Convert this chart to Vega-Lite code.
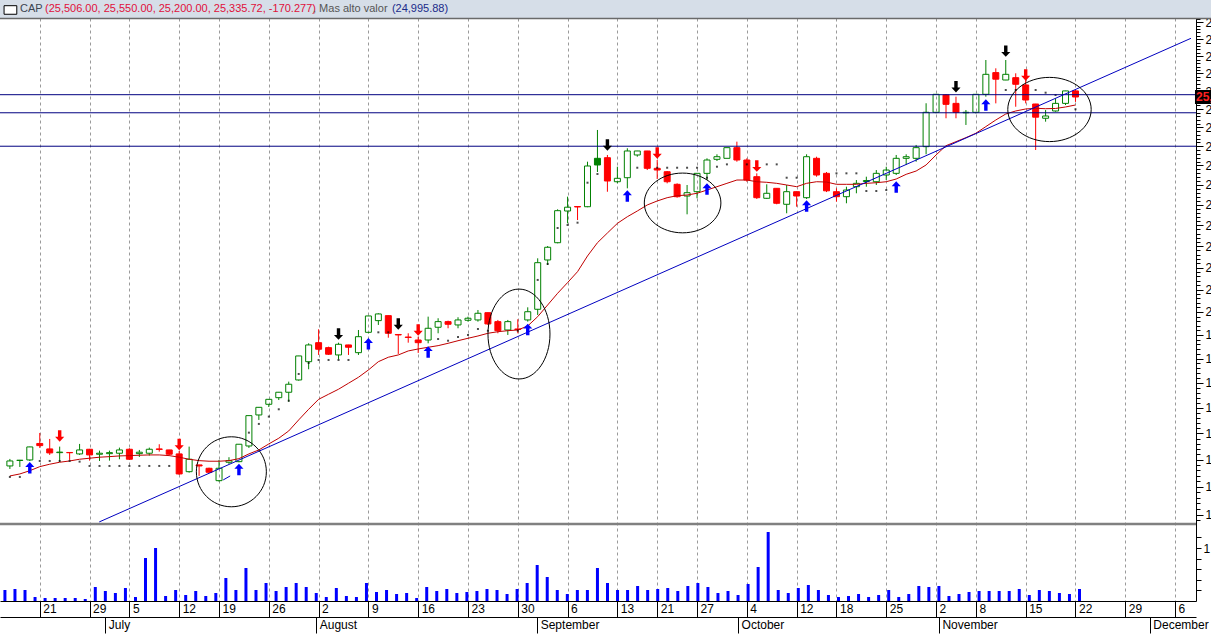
{
  "$schema": "https://vega.github.io/schema/vega-lite/v6.json",
  "width": 1196,
  "height": 601,
  "autosize": {"type": "none"},
  "padding": {"left": 0, "top": 0, "right": 15, "bottom": 35},
  "background": "#ffffff",
  "config": {
    "view": {"stroke": null},
    "font": "Liberation Sans",
    "axis": {"labelFont": "Liberation Sans"}
  },
  "datasets": {
    "candles": [
      {"k":-3,"o":16883,"h":17014,"l":16827,"c":16976,"clr":"g","ma":16698,"s":16680,"v":0.208},
      {"k":-2,"o":16985,"h":16995,"l":16864,"c":16990,"clr":"g","ma":16735,"s":16680,"v":0.226},
      {"k":-1,"o":16995,"h":17245,"l":16976,"c":17240,"clr":"g","ma":16795,"v":0.208},
      {"k":0,"o":17306,"h":17507,"l":17221,"c":17265,"clr":"r","ma":16870,"s":16976,"v":0.075},
      {"k":1,"o":17202,"h":17392,"l":17089,"c":17127,"clr":"r","ma":16915,"s":16976,"v":0.057},
      {"k":2,"o":17132,"h":17246,"l":16958,"c":17142,"clr":"g","ma":16952,"s":16976,"v":0.057},
      {"k":3,"o":17135,"h":17138,"l":16995,"c":17130,"clr":"r","ma":16976,"s":16976,"v":0.057},
      {"k":4,"o":17108,"h":17297,"l":17089,"c":17183,"clr":"g","ma":17008,"s":16963,"v":0.057},
      {"k":5,"o":17196,"h":17202,"l":16982,"c":17089,"clr":"r","ma":17027,"s":16883,"v":0.038},
      {"k":6,"o":17102,"h":17170,"l":16976,"c":17121,"clr":"g","ma":17046,"s":16883,"v":0.264},
      {"k":7,"o":17113,"h":17170,"l":16982,"c":17132,"clr":"g","ma":17057,"s":16883,"v":0.189},
      {"k":8,"o":17121,"h":17227,"l":17008,"c":17183,"clr":"g","ma":17070,"s":16883,"v":0.151},
      {"k":9,"o":17196,"h":17215,"l":16995,"c":17008,"clr":"r","ma":17076,"s":16883,"v":0.245},
      {"k":10,"o":17113,"h":17183,"l":17051,"c":17140,"clr":"g","ma":17083,"s":16883,"v":0.075},
      {"k":11,"o":17121,"h":17227,"l":17076,"c":17196,"clr":"g","ma":17089,"s":16883,"v":0.811},
      {"k":12,"o":17202,"h":17291,"l":17151,"c":17193,"clr":"r","ma":17089,"s":16883,"v":1.0},
      {"k":13,"o":17183,"h":17185,"l":17076,"c":17102,"clr":"r","ma":17076,"s":16883,"v":0.094},
      {"k":14,"o":17108,"h":17164,"l":16717,"c":16735,"clr":"r","ma":17046,"v":0.208},
      {"k":15,"o":16777,"h":17246,"l":16759,"c":17008,"clr":"g","ma":17008,"v":0.113},
      {"k":16,"o":16902,"h":16905,"l":16698,"c":16883,"clr":"r","ma":16982,"v":0.189},
      {"k":17,"o":16840,"h":16851,"l":16759,"c":16766,"clr":"r","ma":16971,"v":0.094},
      {"k":18,"o":16612,"h":16995,"l":16594,"c":16840,"clr":"g","ma":16971,"v":0.151},
      {"k":19,"o":16952,"h":17046,"l":16920,"c":16982,"clr":"g","ma":16982,"v":0.434},
      {"k":20,"o":16963,"h":17295,"l":16952,"c":17291,"clr":"g","ma":17019,"v":0.208},
      {"k":21,"o":17258,"h":17848,"l":17221,"c":17844,"clr":"g","ma":17108,"s":17513,"v":0.623},
      {"k":22,"o":17857,"h":18014,"l":17760,"c":18008,"clr":"g","ma":17183,"s":17682,"v":0.208},
      {"k":23,"o":18068,"h":18173,"l":18014,"c":18167,"clr":"g","ma":17297,"s":17825,"v":0.34},
      {"k":24,"o":18200,"h":18315,"l":18153,"c":18309,"clr":"g","ma":17406,"s":17969,"v":0.189},
      {"k":25,"o":18309,"h":18524,"l":18119,"c":18471,"clr":"g","ma":17546,"s":18139,"v":0.264},
      {"k":26,"o":18558,"h":19058,"l":18544,"c":19055,"clr":"g","ma":17760,"s":18681,"v":0.34},
      {"k":27,"o":18935,"h":19322,"l":18778,"c":19287,"clr":"g","ma":17969,"s":18908,"v":0.264},
      {"k":28,"o":19335,"h":19622,"l":19076,"c":19196,"clr":"r","ma":18167,"s":18971,"v":0.151},
      {"k":29,"o":19230,"h":19251,"l":19076,"c":19091,"clr":"r","ma":18269,"s":18971,"v":0.075},
      {"k":30,"o":19076,"h":19335,"l":18986,"c":19301,"clr":"g","ma":18370,"s":18971,"v":0.245},
      {"k":31,"o":19287,"h":19290,"l":19076,"c":19238,"clr":"r","ma":18491,"s":18971,"v":0.094},
      {"k":32,"o":19124,"h":19607,"l":19076,"c":19463,"clr":"g","ma":18613,"v":0.075},
      {"k":33,"o":19557,"h":19915,"l":19536,"c":19912,"clr":"g","ma":18763,"v":0.34},
      {"k":34,"o":19810,"h":19971,"l":19716,"c":19956,"clr":"g","ma":18935,"s":19557,"v":0.17},
      {"k":35,"o":19919,"h":19922,"l":19441,"c":19536,"clr":"r","ma":19028,"s":19557,"v":0.208},
      {"k":36,"o":19510,"h":19521,"l":19097,"c":19500,"clr":"r","ma":19076,"v":0.132},
      {"k":37,"o":19456,"h":19536,"l":19335,"c":19446,"clr":"r","ma":19160,"v":0.151},
      {"k":38,"o":19392,"h":19463,"l":19118,"c":19335,"clr":"r","ma":19202,"v":0.057},
      {"k":39,"o":19392,"h":19897,"l":19322,"c":19644,"clr":"g","ma":19238,"v":0.264},
      {"k":40,"o":19666,"h":19862,"l":19536,"c":19788,"clr":"g","ma":19272,"s":19413,"v":0.189},
      {"k":41,"o":19788,"h":19810,"l":19644,"c":19731,"clr":"r","ma":19322,"s":19377,"v":0.226},
      {"k":42,"o":19716,"h":19884,"l":19644,"c":19825,"clr":"g","ma":19377,"s":19456,"v":0.151},
      {"k":43,"o":19818,"h":19897,"l":19788,"c":19862,"clr":"g","ma":19429,"s":19500,"v":0.17},
      {"k":44,"o":19825,"h":20043,"l":19788,"c":19971,"clr":"g","ma":19478,"s":19629,"v":0.189},
      {"k":45,"o":19984,"h":19987,"l":19716,"c":19738,"clr":"r","ma":19536,"s":19592,"v":0.226},
      {"k":46,"o":19788,"h":19825,"l":19536,"c":19592,"clr":"r","ma":19570,"v":0.208},
      {"k":47,"o":19607,"h":19825,"l":19500,"c":19788,"clr":"g","ma":19592,"v":0.132},
      {"k":48,"o":19629,"h":19840,"l":19536,"c":19618,"clr":"r","ma":19607,"s":19592,"v":0.226},
      {"k":49,"o":19825,"h":20102,"l":19788,"c":20005,"clr":"g","ma":19694,"v":0.34},
      {"k":50,"o":20059,"h":21216,"l":19934,"c":21114,"clr":"g","ma":19897,"s":20717,"v":0.679},
      {"k":51,"o":21177,"h":21505,"l":21061,"c":21475,"clr":"g","ma":20154,"s":21084,"v":0.453},
      {"k":52,"o":21583,"h":22391,"l":21569,"c":22357,"clr":"g","ma":20415,"s":21935,"v":0.208},
      {"k":53,"o":22349,"h":22705,"l":22047,"c":22443,"clr":"g","ma":20656,"s":22008,"v":0.132},
      {"k":54,"o":22460,"h":22465,"l":22128,"c":22448,"clr":"r","ma":20906,"s":22064,"v":0.208},
      {"k":55,"o":22455,"h":23595,"l":22443,"c":23484,"clr":"g","ma":21270,"s":23056,"v":0.208},
      {"k":56,"o":23683,"h":24433,"l":23329,"c":23510,"clr":"g","ma":21583,"s":23278,"v":0.623},
      {"k":57,"o":23699,"h":23770,"l":22828,"c":23099,"clr":"r","ma":21815,"v":0.34},
      {"k":58,"o":23081,"h":23465,"l":23040,"c":23168,"clr":"g","ma":22047,"v":0.208},
      {"k":59,"o":23183,"h":23946,"l":22914,"c":23875,"clr":"g","ma":22209,"v":0.208},
      {"k":60,"o":23770,"h":23878,"l":23725,"c":23875,"clr":"g","ma":22349,"s":23439,"v":0.283},
      {"k":61,"o":23875,"h":23878,"l":23380,"c":23424,"clr":"r","ma":22498,"v":0.208},
      {"k":62,"o":23424,"h":23639,"l":23150,"c":23380,"clr":"r","ma":22597,"s":23439,"v":0.226},
      {"k":63,"o":23336,"h":23354,"l":23040,"c":23081,"clr":"r","ma":22679,"s":23439,"v":0.245},
      {"k":64,"o":23015,"h":23040,"l":22679,"c":22704,"clr":"r","ma":22729,"s":23439,"v":0.189},
      {"k":65,"o":22721,"h":22998,"l":22268,"c":22804,"clr":"g","ma":22746,"s":23439,"v":0.283},
      {"k":66,"o":22829,"h":23298,"l":22664,"c":23295,"clr":"g","ma":22789,"s":23439,"v":0.34},
      {"k":67,"o":23295,"h":23683,"l":23124,"c":23639,"clr":"g","ma":22871,"s":23183,"v":0.264},
      {"k":68,"o":23657,"h":23788,"l":23613,"c":23725,"clr":"g","ma":22955,"s":23465,"v":0.151},
      {"k":69,"o":23683,"h":23965,"l":23680,"c":23962,"clr":"g","ma":23040,"s":23526,"v":0.189},
      {"k":70,"o":23962,"h":24121,"l":23595,"c":23639,"clr":"r","ma":23124,"v":0.113},
      {"k":71,"o":23639,"h":23683,"l":23081,"c":23124,"clr":"r","ma":23124,"s":23526,"v":0.321},
      {"k":72,"o":23209,"h":23295,"l":22647,"c":22679,"clr":"r","ma":23081,"s":23526,"v":0.642},
      {"k":73,"o":22664,"h":23015,"l":22647,"c":22789,"clr":"g","ma":23066,"s":23526,"v":1.302},
      {"k":74,"o":22914,"h":22917,"l":22515,"c":22540,"clr":"r","ma":23040,"s":23526,"v":0.208},
      {"k":75,"o":22515,"h":22998,"l":22293,"c":22829,"clr":"g","ma":22998,"s":23183,"v":0.151},
      {"k":76,"o":22829,"h":22832,"l":22455,"c":22721,"clr":"r","ma":22955,"s":23183,"v":0.245},
      {"k":77,"o":22679,"h":23788,"l":22647,"c":23725,"clr":"g","ma":23040,"v":0.302},
      {"k":78,"o":23683,"h":23725,"l":23209,"c":23252,"clr":"r","ma":23081,"v":0.208},
      {"k":79,"o":23295,"h":23329,"l":22820,"c":22851,"clr":"r","ma":23073,"v":0.113},
      {"k":80,"o":22829,"h":22914,"l":22580,"c":22704,"clr":"r","ma":23015,"s":23295,"v":0.075},
      {"k":81,"o":22704,"h":22955,"l":22540,"c":22871,"clr":"g","ma":23015,"s":23295,"v":0.094},
      {"k":82,"o":22955,"h":23124,"l":22789,"c":23040,"clr":"g","ma":23015,"s":23295,"v":0.132},
      {"k":83,"o":23086,"h":23209,"l":22955,"c":23111,"clr":"g","ma":23040,"s":22846,"v":0.075},
      {"k":84,"o":23081,"h":23380,"l":22998,"c":23295,"clr":"g","ma":23056,"s":22846,"v":0.113},
      {"k":85,"o":23252,"h":23465,"l":23124,"c":23380,"clr":"g","ma":23081,"s":22871,"v":0.208},
      {"k":86,"o":23295,"h":23770,"l":23252,"c":23683,"clr":"g","ma":23150,"v":0.075},
      {"k":87,"o":23683,"h":23788,"l":23510,"c":23725,"clr":"g","ma":23270,"v":0.132},
      {"k":88,"o":23683,"h":24034,"l":23595,"c":23962,"clr":"g","ma":23354,"v":0.283},
      {"k":89,"o":23989,"h":25162,"l":23788,"c":24913,"clr":"g","ma":23510,"v":0.264},
      {"k":90,"o":24913,"h":25414,"l":24886,"c":25411,"clr":"g","ma":23770,"v":0.283},
      {"k":91,"o":25392,"h":25411,"l":24750,"c":25132,"clr":"r","ma":24014,"v":0.094},
      {"k":92,"o":25159,"h":25345,"l":24750,"c":24913,"clr":"r","ma":24121,"v":0.132},
      {"k":93,"o":24900,"h":24976,"l":24568,"c":24913,"clr":"g","ma":24228,"v":0.17},
      {"k":94,"o":24913,"h":25414,"l":24881,"c":25411,"clr":"g","ma":24345,"v":0.189},
      {"k":95,"o":25411,"h":26388,"l":25344,"c":25976,"clr":"g","ma":24524,"v":0.189},
      {"k":96,"o":26025,"h":26148,"l":25159,"c":25837,"clr":"r","ma":24703,"v":0.189},
      {"k":97,"o":25814,"h":26388,"l":25810,"c":25976,"clr":"g","ma":24866,"s":25531,"v":0.189},
      {"k":98,"o":25880,"h":26005,"l":25066,"c":25693,"clr":"r","ma":24949,"s":25531,"v":0.226},
      {"k":99,"o":25673,"h":25814,"l":25159,"c":25252,"clr":"r","ma":25004,"v":0.113},
      {"k":100,"o":25141,"h":25145,"l":23901,"c":24779,"clr":"r","ma":25023,"s":25531,"v":0.208},
      {"k":101,"o":24750,"h":24976,"l":24657,"c":24812,"clr":"g","ma":25012,"s":25456,"v":0.189},
      {"k":102,"o":24949,"h":25300,"l":24930,"c":25159,"clr":"g","ma":25018,"s":25392,"v":0.151},
      {"k":103,"o":25159,"h":25512,"l":25113,"c":25506,"clr":"g","ma":25059,"v":0.132},
      {"k":104,"o":25506,"h":25550,"l":25200,"c":25335.72,"clr":"r","ma":25114,"s":24995.88,"v":0.226}
    ],
    "arrows": [
      {"k":-1,"p":16849,"t":"buy"},{"k":20,"p":16817,"t":"buy"},{"k":33,"p":19311,"t":"buy"},
      {"k":39,"p":19139,"t":"buy"},{"k":49,"p":19618,"t":"buy"},{"k":59,"p":22721,"t":"buy"},
      {"k":67,"p":22896,"t":"buy"},{"k":77,"p":22473,"t":"buy"},{"k":86,"p":22946,"t":"buy"},
      {"k":95,"p":25113,"t":"buy"},
      {"k":30,"p":19520,"t":"sell"},{"k":36,"p":19738,"t":"sell"},{"k":57,"p":24034,"t":"sell"},
      {"k":92,"p":25624,"t":"sell"},{"k":97,"p":26646,"t":"sell"},
      {"k":2,"p":17450,"t":"sellr"},{"k":14,"p":17287,"t":"sellr"},{"k":38,"p":19607,"t":"sellr"},
      {"k":62,"p":23822,"t":"sellr"},{"k":72,"p":23483,"t":"sellr"},{"k":99,"p":25956,"t":"sellr"}
    ],
    "ellipses": [
      {"k":19.24,"p":16775,"e":"e1","sz":4900},
      {"k":48.12,"p":19520,"e":"e2","sz":3844},
      {"k":64.55,"p":22548,"e":"e3","sz":5868},
      {"k":101.39,"p":24990,"e":"e4","sz":6956}
    ],
    "trend": [
      {"k1":5.97,"p1":15874,"k2":115.6,"p2":27026},
      {"k1":18.42,"p1":16625,"k2":19.12,"p2":16698}
    ],
    "hlines": [{"p":25400},{"p":24900},{"p":24000}],
    "hdr": [
      {"pos":3.93,"txt":"CAP","col":"#3c4450"},
      {"pos":8.84,"txt":"(25,506.00, 25,550.00, 25,200.00, 25,335.72, -170.277)","col":"#e0103a"},
      {"pos":61.5,"txt":", Mas  alto valor","col":"#555555"},
      {"pos":77,"txt":"(24,995.88)","col":"#1a2a8a"}
    ]
  },
  "layer": [
    {
      "layer": [
        {
          "layer": [
            {
              "data": {"name": "candles"},
              "transform": [{"filter": "datum.c < datum.o"}],
              "mark": {"type": "rule", "strokeWidth": 1},
              "encoding": {
                "x": {"field": "k", "type": "quantitative", "scale": {"domain": [-3.49, 115.6], "nice": false, "zero": false},
                  "axis": {"orient": "bottom", "values": [0,5,9,14,18,23,28,33,38,43,48,53,58,62,66,71,76,80,85,90,94,99,104,109,114],
                    "labelExpr": "['21','29','5','12','19','26','2','9','16','23','30','6','13','21','27','4','12','18','25','2','8','15','22','29','6'][indexof([0,5,9,14,18,23,28,33,38,43,48,53,58,62,66,71,76,80,85,90,94,99,104,109,114], datum.value)]",
                    "title": null, "grid": true, "gridColor": "#9a9a9a", "gridDash": [3, 3], "gridWidth": 1,
                    "domain": true, "domainColor": "#000000", "ticks": true, "tickColor": "#000000", "tickSize": 16,
                    "labelAlign": "left", "labelBaseline": "top", "labelPadding": -14, "labelOffset": 3, "labelFontSize": 12,
                    "labelColor": "#000000", "labelOverlap": false, "labelFlush": false, "labelBound": false}},
                "y": {"field": "h", "type": "quantitative", "scale": {"type": "log", "domain": [14552, 28189], "nice": false},
                  "axis": {"orient": "right", "values": [16000,16500,17000,17500,18000,18500,19000,19500,20000,20500,21000,21500,22000,22500,23000,23500,24000,24500,25000,25500,26000,26500,27000,27500,28000],
                    "format": ",d", "title": null, "grid": false, "domainColor": "#000000", "tickColor": "#000000", "tickSize": 7,
                    "labelPadding": 2, "labelFontSize": 12, "labelColor": "#000000", "labelOverlap": false, "labelFlush": false, "labelBound": false}},
                "y2": {"field": "l"},
                "color": {"field": "clr", "type": "nominal", "scale": {"domain": ["g","r"], "range": ["#008000","#ff0000"]}, "legend": null}
              }
            },
            {
              "data": {"name": "candles"},
              "transform": [{"filter": "datum.c >= datum.o"}],
              "mark": {"type": "rule", "strokeWidth": 1},
              "encoding": {
                "x": {"field": "k", "type": "quantitative", "scale": {"domain": [-3.49, 115.6], "nice": false, "zero": false}, "axis": null},
                "y": {"field": "h", "type": "quantitative", "scale": {"type": "log", "domain": [14552, 28189], "nice": false}, "axis": null},
                "y2": {"field": "c"},
                "color": {"field": "clr", "type": "nominal", "scale": {"domain": ["g","r"], "range": ["#008000","#ff0000"]}, "legend": null}
              }
            },
            {
              "data": {"name": "candles"},
              "transform": [{"filter": "datum.c >= datum.o"}],
              "mark": {"type": "rule", "strokeWidth": 1},
              "encoding": {
                "x": {"field": "k", "type": "quantitative", "scale": {"domain": [-3.49, 115.6], "nice": false, "zero": false}, "axis": null},
                "y": {"field": "o", "type": "quantitative", "scale": {"type": "log", "domain": [14552, 28189], "nice": false}, "axis": null},
                "y2": {"field": "l"},
                "color": {"field": "clr", "type": "nominal", "scale": {"domain": ["g","r"], "range": ["#008000","#ff0000"]}, "legend": null}
              }
            },
            {
              "data": {"name": "candles"},
              "mark": {"type": "bar", "size": 6, "strokeWidth": 1},
              "encoding": {
                "x": {"field": "k", "type": "quantitative", "scale": {"domain": [-3.49, 115.6], "nice": false, "zero": false}, "axis": null},
                "y": {"field": "o", "type": "quantitative", "scale": {"type": "log", "domain": [14552, 28189], "nice": false}, "axis": null},
                "y2": {"field": "c"},
                "stroke": {"field": "clr", "type": "nominal", "scale": {"domain": ["g","r"], "range": ["#008000","#ff0000"]}, "legend": null},
                "fill": {"condition": {"test": "datum.o > datum.c", "field": "clr", "type": "nominal", "scale": {"domain": ["g","r"], "range": ["#008000","#ff0000"]}, "legend": null}, "value": "transparent"}
              }
            },
            {
              "data": {"name": "candles"},
              "mark": {"type": "line", "strokeWidth": 1, "color": "#c00000"},
              "encoding": {
                "x": {"field": "k", "type": "quantitative", "scale": {"domain": [-3.49, 115.6], "nice": false, "zero": false}, "axis": null},
                "y": {"field": "ma", "type": "quantitative", "scale": {"type": "log", "domain": [14552, 28189], "nice": false},
                  "axis": {"orient": "right", "values": [15900,16000,16100,16200,16300,16400,16500,16600,16700,16800,16900,17000,17100,17200,17300,17400,17500,17600,17700,17800,17900,18000,18100,18200,18300,18400,18500,18600,18700,18800,18900,19000,19100,19200,19300,19400,19500,19600,19700,19800,19900,20000,20100,20200,20300,20400,20500,20600,20700,20800,20900,21000,21100,21200,21300,21400,21500,21600,21700,21800,21900,22000,22100,22200,22300,22400,22500,22600,22700,22800,22900,23000,23100,23200,23300,23400,23500,23600,23700,23800,23900,24000,24100,24200,24300,24400,24500,24600,24700,24800,24900,25000,25100,25200,25300,25400,25500,25600,25700,25800,25900,26000,26100,26200,26300,26400,26500,26600,26700,26800,26900,27000,27100,27200,27300,27400,27500,27600,27700,27800],
                    "labels": false, "domain": false, "title": null, "grid": false, "tickSize": 4, "tickColor": "#000000"}}
              }
            },
            {
              "data": {"name": "candles"},
              "mark": {"type": "point", "shape": "square", "size": 4, "filled": true, "color": "#000000"},
              "encoding": {
                "x": {"field": "k", "type": "quantitative", "scale": {"domain": [-3.49, 115.6], "nice": false, "zero": false}, "axis": null},
                "y": {"field": "s", "type": "quantitative", "scale": {"type": "log", "domain": [14552, 28189], "nice": false}, "axis": null}
              }
            },
            {
              "data": {"name": "hlines"},
              "mark": {"type": "rule", "strokeWidth": 1, "color": "#000080"},
              "encoding": {
                "y": {"field": "p", "type": "quantitative", "scale": {"type": "log", "domain": [14552, 28189], "nice": false}, "axis": null}
              }
            },
            {
              "data": {"name": "trend"},
              "mark": {"type": "rule", "strokeWidth": 1, "color": "#0000c0"},
              "encoding": {
                "x": {"field": "k1", "type": "quantitative", "scale": {"domain": [-3.49, 115.6], "nice": false, "zero": false}, "axis": null},
                "x2": {"field": "k2"},
                "y": {"field": "p1", "type": "quantitative", "scale": {"type": "log", "domain": [14552, 28189], "nice": false}, "axis": null},
                "y2": {"field": "p2"}
              }
            },
            {
              "data": {"values": [{"p": 15840}]},
              "mark": {"type": "rule", "strokeWidth": 2.5, "color": "#808080"},
              "encoding": {
                "y": {"field": "p", "type": "quantitative", "scale": {"type": "log", "domain": [14552, 28189], "nice": false}, "axis": null}
              }
            },
            {
              "data": {"name": "arrows"},
              "mark": {"type": "point", "filled": true, "strokeWidth": 0, "opacity": 1},
              "encoding": {
                "x": {"field": "k", "type": "quantitative", "scale": {"domain": [-3.49, 115.6], "nice": false, "zero": false}, "axis": null},
                "y": {"field": "p", "type": "quantitative", "scale": {"type": "log", "domain": [14552, 28189], "nice": false}, "axis": null},
                "shape": {"field": "t", "type": "nominal", "legend": null,
                  "scale": {"domain": ["buy","sell","sellr"], "range": ["M0,-1L0.8,-0.15L0.3,-0.15L0.3,1L-0.3,1L-0.3,-0.15L-0.8,-0.15Z", "M0,1L0.8,0.15L0.3,0.15L0.3,-1L-0.3,-1L-0.3,0.15L-0.8,0.15Z", "M0,1L0.8,0.15L0.3,0.15L0.3,-1L-0.3,-1L-0.3,0.15L-0.8,0.15Z"]}},
                "color": {"field": "t", "type": "nominal", "legend": null,
                  "scale": {"domain": ["buy","sell","sellr"], "range": ["#0000ff","#000000","#ff0000"]}},
                "size": {"value": 130}
              }
            },
            {
              "data": {"name": "ellipses"},
              "mark": {"type": "point", "filled": false, "strokeWidth": 1, "color": "#000000", "opacity": 1},
              "encoding": {
                "x": {"field": "k", "type": "quantitative", "scale": {"domain": [-3.49, 115.6], "nice": false, "zero": false}, "axis": null},
                "y": {"field": "p", "type": "quantitative", "scale": {"type": "log", "domain": [14552, 28189], "nice": false}, "axis": null},
                "shape": {"field": "e", "type": "nominal", "legend": null,
                  "scale": {"domain": ["e1","e2","e3","e4"], "range": ["M-1,0A1,1,0,1,1,1,0A1,1,0,1,1,-1,0Z", "M-1,0A1,1.45,0,1,1,1,0A1,1.45,0,1,1,-1,0Z", "M-1,0A1,0.78,0,1,1,1,0A1,0.78,0,1,1,-1,0Z", "M-1,0A1,0.77,0,1,1,1,0A1,0.77,0,1,1,-1,0Z"]}},
                "size": {"field": "sz", "type": "quantitative", "scale": null, "legend": null}
              }
            },
            {
              "data": {"values": [{"a": 116, "b": 121, "t": 25531, "u": 25141}]},
              "mark": {"type": "rect", "color": "#000000"},
              "encoding": {
                "x": {"field": "a", "type": "quantitative", "scale": {"domain": [-3.49, 115.6], "nice": false, "zero": false}, "axis": null},
                "x2": {"field": "b"},
                "y": {"field": "t", "type": "quantitative", "scale": {"type": "log", "domain": [14552, 28189], "nice": false}, "axis": null},
                "y2": {"field": "u"}
              }
            },
            {
              "data": {"values": [{"a": 116.1, "p": 25335.72, "txt": "25,335.72"}]},
              "mark": {"type": "text", "align": "left", "baseline": "middle", "fontSize": 12, "fontWeight": "bold", "color": "#ff2020"},
              "encoding": {
                "x": {"field": "a", "type": "quantitative", "scale": {"domain": [-3.49, 115.6], "nice": false, "zero": false}, "axis": null},
                "y": {"field": "p", "type": "quantitative", "scale": {"type": "log", "domain": [14552, 28189], "nice": false}, "axis": null},
                "text": {"field": "txt"}
              }
            }
          ],
          "resolve": {"scale": {"color": "independent", "shape": "independent", "size": "independent", "fill": "independent", "stroke": "independent"}, "axis": {"x": "independent", "y": "independent"}}
        },
        {
          "data": {"name": "candles"},
          "mark": {"type": "rule", "strokeWidth": 3, "color": "#0000ff"},
          "encoding": {
            "x": {"field": "k", "type": "quantitative", "scale": {"domain": [-3.49, 115.6], "nice": false, "zero": false},
              "axis": {"orient": "bottom", "offset": 16, "values": [7,28,50,70,90,111],
                "labelExpr": "['July','August','September','October','November','December'][indexof([7,28,50,70,90,111], datum.value)]",
                "title": null, "grid": false, "domain": true, "domainColor": "#000000", "ticks": true, "tickColor": "#000000", "tickSize": 16,
                "labelAlign": "left", "labelBaseline": "top", "labelPadding": -14, "labelOffset": 3, "labelFontSize": 12,
                "labelColor": "#000000", "labelOverlap": false, "labelFlush": false, "labelBound": false}},
            "y": {"field": "v", "type": "quantitative", "scale": {"domain": [0, 11.34], "nice": false, "zero": false},
              "axis": {"orient": "right", "values": [0.2,0.4,0.6,0.8,1,1.2], "labelExpr": "datum.value == 1 ? '1' : ''",
                "title": null, "grid": false, "domain": false, "tickColor": "#000000", "tickSize": 5, "labelPadding": 2,
                "labelFontSize": 12, "labelColor": "#000000", "labelOverlap": false, "labelFlush": false, "labelBound": false}},
            "y2": {"datum": 0}
          }
        }
      ],
      "resolve": {"scale": {"x": "independent", "y": "independent"}, "axis": {"x": "independent", "y": "independent"}}
    },
    {
      "layer": [
        {
          "data": {"values": [{"a": 0, "b": 240, "t": 0, "u": 1}]},
          "mark": {"type": "rect", "color": "#d6dee8"},
          "encoding": {
            "x": {"field": "a", "type": "quantitative", "scale": {"domain": [0, 235], "nice": false, "zero": false}, "axis": null},
            "x2": {"field": "b"},
            "y": {"field": "t", "type": "quantitative", "scale": {"domain": [0, 31.63], "reverse": true, "nice": false, "zero": false}, "axis": null},
            "y2": {"field": "u"}
          }
        },
        {
          "data": {"values": [{"a": 0, "b": 240, "t": 0.97}]},
          "mark": {"type": "rule", "color": "#6a6a6a", "strokeWidth": 1.5},
          "encoding": {
            "x": {"field": "a", "type": "quantitative", "scale": {"domain": [0, 235], "nice": false, "zero": false}, "axis": null},
            "x2": {"field": "b"},
            "y": {"field": "t", "type": "quantitative", "scale": {"domain": [0, 31.63], "reverse": true, "nice": false, "zero": false}, "axis": null}
          }
        },
        {
          "data": {"values": [{"a": 0.8, "b": 3.3, "t": 0.3, "u": 0.75}]},
          "mark": {"type": "rect", "fill": "#ffffff", "stroke": "#000000", "strokeWidth": 1},
          "encoding": {
            "x": {"field": "a", "type": "quantitative", "scale": {"domain": [0, 235], "nice": false, "zero": false}, "axis": null},
            "x2": {"field": "b"},
            "y": {"field": "t", "type": "quantitative", "scale": {"domain": [0, 31.63], "reverse": true, "nice": false, "zero": false}, "axis": null},
            "y2": {"field": "u"}
          }
        },
        {
          "data": {"name": "hdr"},
          "mark": {"type": "text", "align": "left", "baseline": "middle", "fontSize": 11, "font": "Liberation Sans"},
          "encoding": {
            "x": {"field": "pos", "type": "quantitative", "scale": {"domain": [0, 235], "nice": false, "zero": false}, "axis": null},
            "y": {"datum": 0.47, "type": "quantitative", "scale": {"domain": [0, 31.63], "reverse": true, "nice": false, "zero": false}, "axis": null},
            "text": {"field": "txt"},
            "color": {"field": "col", "type": "nominal", "scale": null, "legend": null}
          }
        }
      ]
    }
  ],
  "resolve": {"scale": {"x": "independent", "y": "independent"}, "axis": {"x": "independent", "y": "independent"}}
}
